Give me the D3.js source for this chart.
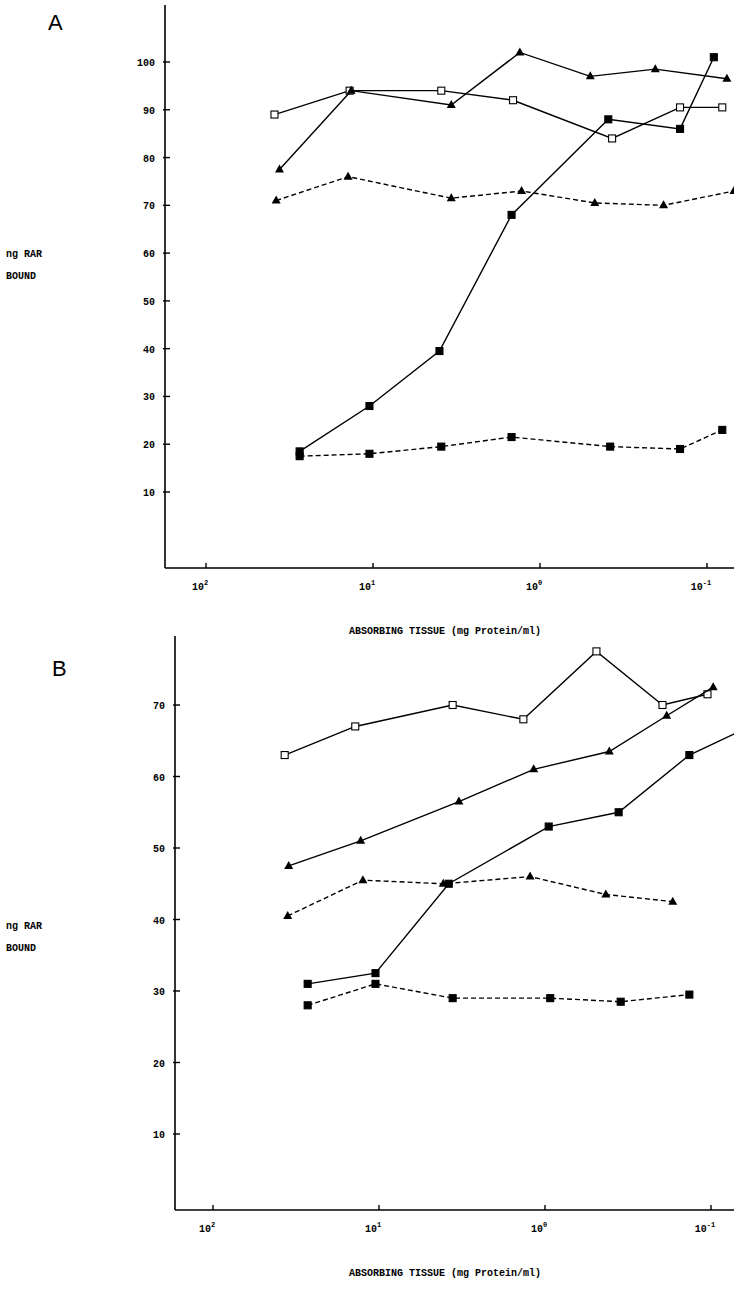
<!DOCTYPE html>
<html>
<script src='https://d3js.org/d3.v7.min.js'></script>
<style>
  html, body { margin: 0; background: #fff; }
  text { font-family: 'Liberation Mono', 'DejaVu Sans Mono', monospace; font-weight: bold; font-size: 10px; }
</style>
<body>
<div id="vis"></div>
</body>
<script>
// panel A
var aOpenSqX = [38.9, 13.8, 3.9, 1.45, 0.37, 0.145, 0.081];
var aOpenSqY = [89, 94, 94, 92, 84, 90.5, 90.5];
var aTriX = [36.3, 13.5, 3.4, 1.32, 0.50, 0.204, 0.076];
var aTriY = [77.5, 94, 91, 102, 97, 98.5, 96.5];
var aTriDashX = [38, 14.1, 3.4, 1.29, 0.47, 0.182, 0.069];
var aTriDashY = [71, 76, 71.5, 73, 70.5, 70, 73];
var aSqX = [27.5, 10.5, 4.0, 1.48, 0.39, 0.145, 0.091];
var aSqY = [18.5, 28, 39.5, 68, 88, 86, 101];
var aSqDashX = [27.5, 10.5, 3.9, 1.48, 0.38, 0.145, 0.081];
var aSqDashY = [17.5, 18, 19.5, 21.5, 19.5, 19, 23];
var aYTicks = [10, 20, 30, 40, 50, 60, 70, 80, 90, 100];
// panel B
var bOpenSqX = [37, 13.9, 3.6, 1.35, 0.49, 0.196, 0.105];
var bOpenSqY = [63, 67, 70, 68, 77.5, 70, 71.5];
var bTriX = [35, 12.9, 3.3, 1.17, 0.41, 0.185, 0.097];
var bTriY = [47.5, 51, 56.5, 61, 63.5, 68.5, 72.5];
var bTriDashX = [35.5, 12.5, 4.1, 1.23, 0.43, 0.17];
var bTriDashY = [40.5, 45.5, 45, 46, 43.5, 42.5];
var bSqX = [26.9, 10.5, 3.8, 0.95, 0.36, 0.135];
var bSqY = [31, 32.5, 45, 53, 55, 63];
var bSqTailX = 0.072, bSqTailY = 66;
var bSqDashX = [26.9, 10.5, 3.6, 0.93, 0.35, 0.135];
var bSqDashY = [28, 31, 29, 29, 28.5, 29.5];
var bYTicks = [10, 20, 30, 40, 50, 60, 70];
var xTicks = [100, 10, 1, 0.1];
var xTickExp = ['2', '1', '0', '-1'];

var svg = d3.select('#vis').append('svg').attr('width', 734).attr('height', 1309);

function zip(xs, ys) { return xs.map(function(x, i) { return [x, ys[i]]; }); }

function panel(o) {
    var g = svg.append('g');
    var x = d3.scaleLog().domain([o.d0, o.d1]).range([o.x0, 734]);
    var y = d3.scaleLinear().domain([o.y0v, o.y1v]).range([o.py0, o.py1]);
    // axes
    g.append('line').attr('x1', o.x0).attr('x2', o.x0).attr('y1', o.top).attr('y2', o.bottom).attr('stroke', '#000').attr('stroke-width', 1.6);
    g.append('line').attr('x1', o.x0).attr('x2', 734).attr('y1', o.bottom).attr('y2', o.bottom).attr('stroke', '#000').attr('stroke-width', 1.6);
    o.yTicks.forEach(function(t) {
        g.append('line').attr('x1', o.x0 - 2).attr('x2', o.x0 + 5).attr('y1', y(t)).attr('y2', y(t)).attr('stroke', '#000').attr('stroke-width', 1.4);
        g.append('text').attr('x', o.x0 - 10).attr('y', y(t) + 4).attr('text-anchor', 'end').text(t);
    });
    xTicks.forEach(function(t, i) {
        g.append('line').attr('x1', x(t)).attr('x2', x(t)).attr('y1', o.bottom).attr('y2', o.bottom - 5).attr('stroke', '#000').attr('stroke-width', 1.4);
        var tx = g.append('text').attr('x', x(t) - 6).attr('y', o.bottom + 22).attr('text-anchor', 'middle');
        tx.append('tspan').text('10');
        tx.append('tspan').attr('dy', -5).style('font-size', '7px').text(xTickExp[i]);
    });
    g.append('text').attr('x', 445).attr('y', o.bottom + 66).attr('text-anchor', 'middle').text('ABSORBING TISSUE (mg Protein/ml)');
    g.append('text').attr('x', 6).attr('y', o.ylab).text('ng RAR');
    g.append('text').attr('x', 6).attr('y', o.ylab + 22).text('BOUND');
    g.append('text').attr('x', o.labX).attr('y', o.labY)
        .style('font-family', 'Liberation Sans, sans-serif').style('font-weight', 'normal').style('font-size', '22px').text(o.label);

    var line = d3.line().x(function(d) { return x(d[0]); }).y(function(d) { return y(d[1]); });
    o.series.forEach(function(s) {
        g.append('path').attr('d', line(s.pts.concat(s.tail || []))).attr('fill', 'none').attr('stroke', '#000')
            .attr('stroke-width', 1.4).attr('stroke-dasharray', s.dash ? '5,3' : null);
        s.pts.forEach(function(p) {
            var cx = x(p[0]), cy = y(p[1]);
            if (s.mark === 'tri') {
                g.append('path').attr('d', 'M' + cx + ',' + (cy - 5) + 'L' + (cx + 4.5) + ',' + (cy + 3) + 'L' + (cx - 4.5) + ',' + (cy + 3) + 'Z').attr('fill', '#000');
            } else {
                g.append('rect').attr('x', cx - 3.5).attr('y', cy - 3.5).attr('width', 7).attr('height', 7)
                    .attr('fill', s.mark === 'open' ? '#fff' : '#000').attr('stroke', '#000').attr('stroke-width', 1.1);
            }
        });
    });
}

panel({
    x0: 165, d0: Math.pow(10, 2 + 41 / 167), d1: Math.pow(10, 2 - 528 / 167),
    y0v: 10, y1v: 100, py0: 492, py1: 62, top: 5, bottom: 568, yTicks: aYTicks,
    ylab: 257, label: 'A', labX: 48, labY: 30,
    series: [
        { pts: zip(aOpenSqX, aOpenSqY), mark: 'open' },
        { pts: zip(aTriX, aTriY), mark: 'tri' },
        { pts: zip(aTriDashX, aTriDashY), mark: 'tri', dash: true },
        { pts: zip(aSqX, aSqY), mark: 'sq' },
        { pts: zip(aSqDashX, aSqDashY), mark: 'sq', dash: true }
    ]
});

panel({
    x0: 175, d0: Math.pow(10, 2 + 38 / 166), d1: Math.pow(10, 2 - 521 / 166),
    y0v: 10, y1v: 70, py0: 1134, py1: 705, top: 636, bottom: 1210, yTicks: bYTicks,
    ylab: 929, label: 'B', labX: 52, labY: 676,
    series: [
        { pts: zip(bOpenSqX, bOpenSqY), mark: 'open' },
        { pts: zip(bTriX, bTriY), mark: 'tri' },
        { pts: zip(bTriDashX, bTriDashY), mark: 'tri', dash: true },
        { pts: zip(bSqX, bSqY), mark: 'sq', tail: [[bSqTailX, bSqTailY]] },
        { pts: zip(bSqDashX, bSqDashY), mark: 'sq', dash: true }
    ]
});
</script>
</html>
